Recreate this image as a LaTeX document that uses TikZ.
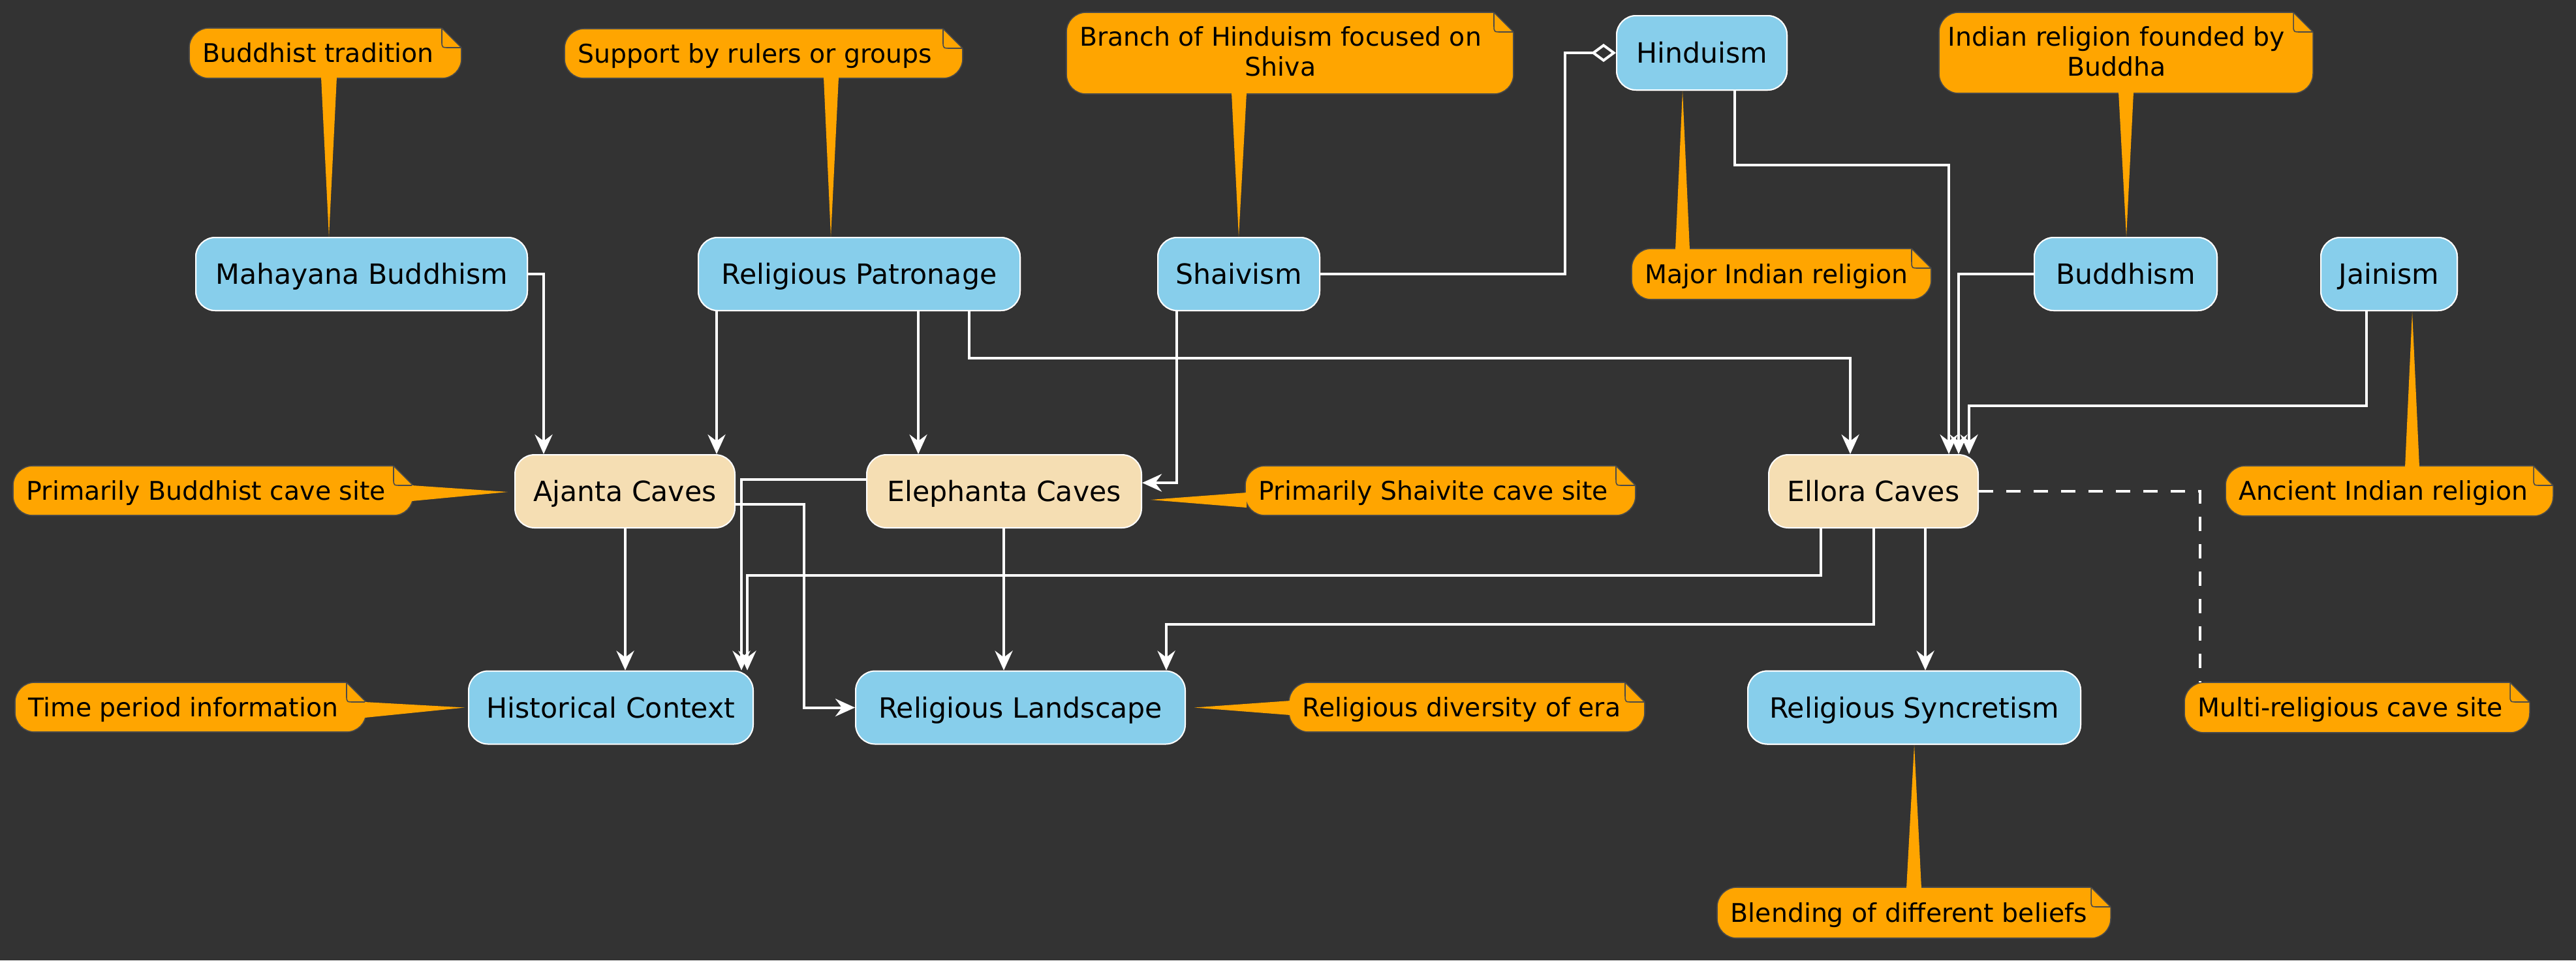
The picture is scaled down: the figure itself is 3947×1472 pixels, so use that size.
\documentclass[tikz,border=0pt]{standalone}
\usepackage{fontspec}
\setmainfont{DejaVu Sans}
\usetikzlibrary{arrows.meta,calc}
\definecolor{bgc}{HTML}{333333}
\definecolor{sky}{HTML}{87CEEB}
\definecolor{wheatc}{HTML}{F5DEB3}
\definecolor{notefill}{HTML}{FFA500}
\definecolor{noteline}{HTML}{4A4A4A}
\newcommand\notebody[4]{%
  \draw[notestyle] (#1,#2) rectangle (#3,#4);
  \fill[bgc] ({#3-32},{#2-2}) -- ({#3+2},{#2-2}) -- ({#3+2},{#2+32}) -- cycle;
  \draw[noteline, line width=0.4pt] ({#3-30},#2) -- (#3,{#2+30});
  \draw[noteline, line width=0.4pt] ({#3-30},#2) -- ({#3-30},{#2+20}) .. controls ({#3-30},{#2+30}) .. ({#3-18},{#2+30}) -- (#3,{#2+30});
}
\newcommand\notetip[3]{\fill[notefill] #1 -- #2 -- #3 -- cycle;}
\begin{document}
\begin{tikzpicture}[x=0.25pt,y=-0.25pt,
  box/.style={draw=white, line width=0.5pt, rounded corners=7.5pt, inner sep=0pt,
    minimum height=28pt, font=\fontsize{10.67pt}{12pt}\selectfont,
    text height=7.8pt, text depth=0pt, text=black},
  relig/.style={box, fill=sky},
  cave/.style={box, fill=wheatc},
  conn/.style={draw=white, line width=1pt, -{Stealth[length=7.5pt,width=6.75pt,inset=2.5pt]}},
  notetext/.style={inner sep=0pt, font=\fontsize{9.85pt}{11.5pt}\selectfont,
    text height=7.18pt, text depth=0pt, text=black},
  notetwo/.style={inner sep=0pt, font=\fontsize{9.85pt}{11.5pt}\selectfont,
    align=center, anchor=north, text=black},
  notestyle/.style={fill=notefill, draw=noteline, line width=0.4pt, rounded corners=7.5pt},
  ]
\fill[bgc] (0,0) rectangle (3947,1472);
\useasboundingbox (0,0) rectangle (3947,1472);

% ---------- main nodes ----------
\node[relig, minimum width=127pt] (mah) at (554,420) {Mahayana Buddhism};
\node[relig, minimum width=123.25pt] (pat) at (1316.5,420) {Religious Patronage};
\node[relig, minimum width=62pt] (sha) at (1898,420) {Shaivism};
\node[relig, minimum width=65.25pt, minimum height=28.5pt] (hin) at (2607.5,81) {Hinduism};
\node[relig, minimum width=70pt] (bud) at (3257,420) {Buddhism};
\node[relig, minimum width=52.25pt] (jai) at (3660.5,420) {Jainism};
\node[cave, minimum width=84.25pt] (aja) at (957.5,753) {Ajanta Caves};
\node[cave, minimum width=105.25pt] (ele) at (1538.5,753) {Elephanta Caves};
\node[cave, minimum width=80.25pt] (ell) at (2870.5,753) {Ellora Caves};
\node[relig, minimum width=109pt] (his) at (936,1084.5) {Historical Context};
\node[relig, minimum width=126.25pt] (rel) at (1563.5,1084.5) {Religious Landscape};
\node[relig, minimum width=127.5pt] (syn) at (2933,1084.5) {Religious Syncretism};

% ---------- notes ----------
\notebody{290}{43}{707}{120}
\notetip{(492,118)}{($(mah.north)+(-50,0)$)}{(516,118)}
\node[notetext, anchor=west] (n1) at (310,81.5) {Buddhist tradition};

\notebody{865}{44}{1475}{120}
\notetip{(1262,118)}{($(pat.north)+(-43.5,0)$)}{(1285,118)}
\node[notetext, anchor=west] (n2) at (885,82) {Support by rulers or groups};

\notebody{1634}{19}{2319}{144}
\notetip{(1887,142)}{(sha.north)}{(1910,142)}
\node[notetwo] (n3) at (1962,40) {Branch of Hinduism focused on\\Shiva};

\notebody{2500}{381}{2959}{459}
\notetip{(2567,383)}{($(hin.south)+(-29.5,0)$)}{(2589,383)}
\node[notetext, anchor=west] (n4) at (2520,420) {Major Indian religion};

\notebody{2971}{19}{3544}{143}
\notetip{(3246,141)}{($(bud.north)+(1,0)$)}{(3269,141)}
\node[notetwo] (n5) at (3243,40) {Indian religion founded by\\Buddha};

\notebody{20}{714}{633}{790}
\notetip{(631,744)}{($(aja.west)+(-10,1)$)}{(631,768)}
\node[notetext, anchor=west] (n6) at (40,752) {Primarily Buddhist cave site};

\notebody{1908}{714}{2506}{790}
\notetip{(1910,755)}{($(ele.east)+(13,13)$)}{(1910,778)}
\node[notetext, anchor=west] (n7) at (1928,752) {Primarily Shaivite cave site};

\notebody{3410}{714}{3912}{791}
\notetip{(3685,716)}{($(jai.south)+(35.5,1)$)}{(3707,716)}
\node[notetext, anchor=west] (n8) at (3430,752.5) {Ancient Indian religion};

\notebody{23}{1046}{561}{1122}
\notetip{(559,1076)}{($(his.west)+(-5,0)$)}{(559,1100)}
\node[notetext, anchor=west] (n9) at (43,1084) {Time period information};

\notebody{1975}{1046}{2520}{1122}
\notetip{(1977,1074)}{($(rel.east)+(13,0)$)}{(1977,1096)}
\node[notetext, anchor=west] (n10) at (1995,1084) {Religious diversity of era};

\notebody{3347}{1046}{3876}{1123}
\node[notetext, anchor=west] (n11) at (3367,1084.5) {Multi-religious cave site};
\coordinate (m11) at (3371,1046);

\notebody{2631}{1360}{3234}{1438}
\notetip{(2921,1362)}{(syn.south)}{(2944,1362)}
\node[notetext, anchor=west] (n12) at (2651,1399) {Blending of different beliefs};

% redraw nodes on top of pointer tips
\node[relig, minimum width=127pt] at (mah) {Mahayana Buddhism};
\node[relig, minimum width=123.25pt] at (pat) {Religious Patronage};
\node[relig, minimum width=62pt] at (sha) {Shaivism};
\node[relig, minimum width=65.25pt, minimum height=28.5pt] at (hin) {Hinduism};
\node[relig, minimum width=70pt] at (bud) {Buddhism};
\node[relig, minimum width=52.25pt] at (jai) {Jainism};
\node[relig, minimum width=127.5pt] at (syn) {Religious Syncretism};

% ---------- connectors ----------
\draw[conn] (mah.east) -| ($(aja.north)+(-124.5,0)$);
\draw[conn] ($(pat.south)+(-218.5,0)$) -- ($(aja.north)+(140.5,0)$);
\draw[conn] ($(pat.south)+(90.5,0)$) -- ($(ele.north)+(-131.5,0)$);
\draw[conn] ($(pat.south)+(168.5,0)$) |- ($(ell.north)+(-35.5,-147)$) -- ($(ell.north)+(-35.5,0)$);
\draw[conn] ($(sha.south)+(-95,0)$) |- ($(ele.east)+(0,-13)$);
\draw[white, line width=1pt, -{Diamond[open,length=9.5pt,width=7pt]}] (sha.east) -- ++(375,0) |- (hin.west);
\draw[conn] ($(hin.south)+(50.5,0)$) |- ($(ell.north)+(115.5,-443)$) -- ($(ell.north)+(115.5,0)$);
\draw[conn] (bud.west) -| ($(ell.north)+(130.5,0)$);
\draw[conn] ($(jai.south)+(-34.5,0)$) |- ($(ell.north)+(146.5,-74)$) -- ($(ell.north)+(146.5,0)$);
\draw[conn] ($(aja.south)+(0.5,0)$) -- ($(his.north)+(22,0)$);
\draw[conn] ($(aja.east)+(0,20)$) -| ($(rel.west)+(-78,0)$) -- (rel.west);
\draw[conn] ($(ele.west)+(0,-18)$) -| ($(his.north)+(200,0)$);
\draw[conn] ($(ele.south)+(-0.5,0)$) -- ($(rel.north)+(-25.5,0)$);
\draw[conn] ($(ell.south)+(-80.5,0)$) |- ($(his.north)+(209,-146)$) -- ($(his.north)+(209,0)$);
\draw[conn] ($(ell.south)+(0.5,0)$) |- ($(rel.north)+(223.5,-71)$) -- ($(rel.north)+(223.5,0)$);
\draw[conn] ($(ell.south)+(79.5,0)$) -- ($(syn.north)+(17,0)$);
\draw[white, line width=1pt, dash pattern=on 5.5pt off 5pt] (ell.east) -| (m11);
\end{tikzpicture}
\end{document}
